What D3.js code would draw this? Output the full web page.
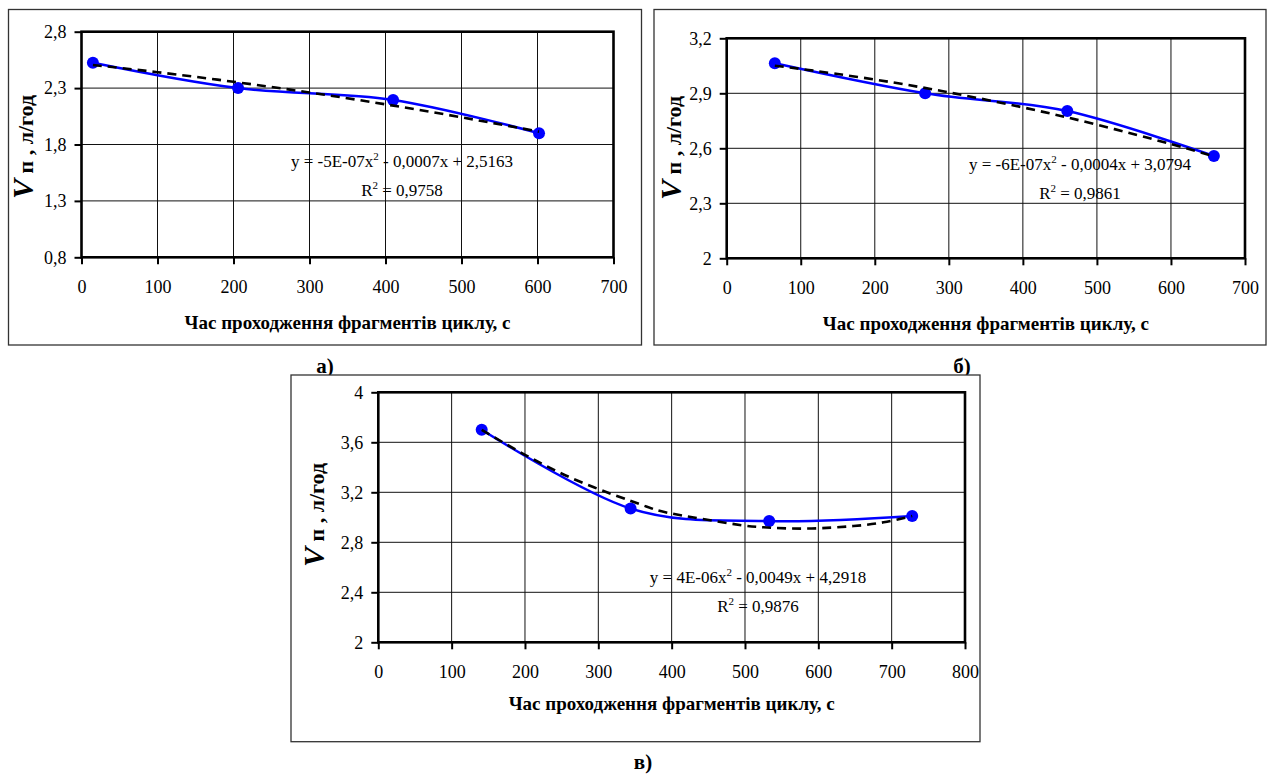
<!DOCTYPE html>
<html>
<head>
<meta charset="utf-8">
<script src="https://cdn.jsdelivr.net/npm/d3@7"></script>
<style>
  body { margin: 0; background: #fff; }
</style>
</head>
<body>
<div id="chart"></div>
<script>
// measured points (time, s ; flow, l/h)
const timeA = [15, 206, 410, 602];
const flowA = [2.525, 2.30, 2.195, 1.90];
const timeB = [65, 268, 460, 658];
const flowB = [3.064, 2.90, 2.803, 2.558];
const timeC = [141, 344, 533, 728];
const flowC = [3.70, 3.07, 2.97, 3.01];

// polynomial trendlines
const trendTimeA = [15, 100, 200, 300, 400, 500, 602];
const trendA = [2.505, 2.441, 2.356, 2.261, 2.156, 2.041, 1.914];
const trendTimeB = [65, 100, 200, 300, 400, 500, 600, 658];
const trendB = [3.050, 3.033, 2.975, 2.905, 2.823, 2.729, 2.623, 2.556];
const trendTimeC = [141, 200, 277, 359, 400, 480, 525, 584, 648, 689, 728];
const trendC = [3.70, 3.50, 3.28, 3.10, 3.03, 2.95, 2.92, 2.91, 2.93, 2.96, 3.01];

// tick values
const xTicksAB = [0, 100, 200, 300, 400, 500, 600, 700];
const xTicksC = [0, 100, 200, 300, 400, 500, 600, 700, 800];
const yTicksA = [0.8, 1.3, 1.8, 2.3, 2.8];
const yTicksB = [2, 2.3, 2.6, 2.9, 3.2];
const yTicksC = [2, 2.4, 2.8, 3.2, 3.6, 4];

// equation texts
const eqA = ["y = -5E-07x", "2", " - 0,0007x + 2,5163"];
const eqB = ["y = -6E-07x", "2", " - 0,0004x + 3,0794"];
const eqC = ["y = 4E-06x", "2", " - 0,0049x + 4,2918"];
const r2A = "0,9758", r2B = "0,9861", r2C = "0,9876";

const xTitle = "Час проходження фрагментів циклу, с";
const panelLabels = ["а)", "б)", "в)"];

const serif = "'Liberation Serif', 'Times New Roman', serif";
const width = 1273, height = 774;
const svg = d3.select("#chart").append("svg")
  .attr("width", width).attr("height", height)
  .attr("font-family", serif);
svg.append("rect").attr("width", width).attr("height", height).attr("fill", "#fff");

const fmt = v => String(+v.toFixed(1)).replace(".", ",");

function drawPanel(p) {
  const g = svg.append("g");
  g.append("rect")
    .attr("x", p.box[0]).attr("y", p.box[1])
    .attr("width", p.box[2]).attr("height", p.box[3])
    .attr("fill", "#fff").attr("stroke", "#333").attr("stroke-width", 1.3);

  const x = d3.scaleLinear().domain(d3.extent(p.xTicks)).range([p.left, p.right]);
  const y = d3.scaleLinear().domain(d3.extent(p.yTicks)).range([p.bottom, p.top]);

  // grid
  g.append("g").selectAll("line")
    .data(p.xTicks.slice(1, -1))
    .join("line")
    .attr("x1", d => x(d)).attr("x2", d => x(d))
    .attr("y1", p.top).attr("y2", p.bottom)
    .attr("stroke", "#111").attr("stroke-width", 1);
  g.append("g").selectAll("line")
    .data(p.yTicks.slice(1, -1))
    .join("line")
    .attr("x1", p.left).attr("x2", p.right)
    .attr("y1", d => y(d)).attr("y2", d => y(d))
    .attr("stroke", "#111").attr("stroke-width", 1);

  // axes
  const ax = g.append("g")
    .attr("transform", `translate(0,${p.bottom})`)
    .call(d3.axisBottom(x).tickValues(p.xTicks).tickSizeInner(7).tickSizeOuter(0).tickPadding(16).tickFormat(d3.format("d")));
  const ay = g.append("g")
    .attr("transform", `translate(${p.left},0)`)
    .call(d3.axisLeft(y).tickValues(p.yTicks).tickSizeInner(7).tickSizeOuter(0).tickPadding(8).tickFormat(fmt));
  [ax, ay].forEach(a => {
    a.attr("font-family", serif).attr("font-size", 18);
    a.select(".domain").remove();
    a.selectAll("line").attr("stroke", "#000").attr("stroke-width", 2);
    a.selectAll("text").attr("fill", "#000");
  });

  // frame
  g.append("rect")
    .attr("x", p.left).attr("y", p.top)
    .attr("width", p.right - p.left).attr("height", p.bottom - p.top)
    .attr("fill", "none").attr("stroke", "#000").attr("stroke-width", 2.6);

  // smoothed data line
  const pts = p.time.map((t, i) => [t, p.flow[i]]);
  g.append("path")
    .datum(pts)
    .attr("fill", "none").attr("stroke", "#0000ff").attr("stroke-width", 2.5)
    .attr("d", d3.line().x(d => x(d[0])).y(d => y(d[1])).curve(d3.curveCardinal.tension(0)));

  g.append("g").selectAll("circle")
    .data(pts)
    .join("circle")
    .attr("cx", d => x(d[0])).attr("cy", d => y(d[1]))
    .attr("r", 6).attr("fill", "#0000ff");

  // trendline
  const tpts = p.trendTime.map((t, i) => [t, p.trend[i]]);
  g.append("path")
    .datum(tpts)
    .attr("fill", "none").attr("stroke", "#000").attr("stroke-width", 2.6)
    .attr("stroke-dasharray", "9,6")
    .attr("d", d3.line().x(d => x(d[0])).y(d => y(d[1])).curve(d3.curveNatural));

  // equation
  const eq = g.append("text")
    .attr("x", p.eq[0]).attr("y", p.eq[1])
    .attr("text-anchor", "middle").attr("font-size", 17);
  eq.append("tspan").text(p.eqText[0]);
  eq.append("tspan").attr("dy", -7).attr("font-size", 11).text(p.eqText[1]);
  eq.append("tspan").attr("dy", 7).text(p.eqText[2]);
  const r2 = g.append("text")
    .attr("x", p.eq[0]).attr("y", p.eq[1] + 29)
    .attr("text-anchor", "middle").attr("font-size", 17);
  r2.append("tspan").text("R");
  r2.append("tspan").attr("dy", -7).attr("font-size", 11).text("2");
  r2.append("tspan").attr("dy", 7).text(" = " + p.r2);

  // axis titles
  g.append("text")
    .attr("x", (p.left + p.right) / 2).attr("y", p.bottom + p.titleGap)
    .attr("text-anchor", "middle").attr("font-size", 19).attr("font-weight", "bold")
    .text(xTitle);

  const yt = g.append("text")
    .attr("transform", `translate(${p.yTitle[0]},${p.yTitle[1]}) rotate(-90)`)
    .attr("text-anchor", "middle").attr("font-weight", "bold");
  yt.append("tspan").attr("font-size", 30).attr("font-style", "italic").text("V");
  yt.append("tspan").attr("font-size", 22).text(" п , л/год");
}

drawPanel({
  box: [8.5, 9.5, 633, 335.5],
  left: 81.5, right: 613.5, top: 31.7, bottom: 257.3,
  xTicks: xTicksAB, yTicks: yTicksA,
  time: timeA, flow: flowA, trendTime: trendTimeA, trend: trendA,
  eq: [402, 167], eqText: eqA, r2: r2A,
  titleGap: 72, yTitle: [33, 147]
});

drawPanel({
  box: [654, 9.5, 612, 335.5],
  left: 726.7, right: 1245, top: 38.3, bottom: 258.3,
  xTicks: xTicksAB, yTicks: yTicksB,
  time: timeB, flow: flowB, trendTime: trendTimeB, trend: trendB,
  eq: [1080, 170], eqText: eqB, r2: r2B,
  titleGap: 72, yTitle: [681, 148]
});

// panel captions a) and б) sit just above panel в's frame
svg.append("text").attr("x", 325).attr("y", 373).attr("text-anchor", "middle")
  .attr("font-size", 21).attr("font-weight", "bold").text(panelLabels[0]);
svg.append("text").attr("x", 962).attr("y", 373).attr("text-anchor", "middle")
  .attr("font-size", 21).attr("font-weight", "bold").text(panelLabels[1]);

drawPanel({
  box: [291, 375, 689, 366.7],
  left: 378.3, right: 965, top: 392.3, bottom: 642.3,
  xTicks: xTicksC, yTicks: yTicksC,
  time: timeC, flow: flowC, trendTime: trendTimeC, trend: trendC,
  eq: [758, 583], eqText: eqC, r2: r2C,
  titleGap: 68, yTitle: [324, 515]
});

svg.append("text").attr("x", 643).attr("y", 769).attr("text-anchor", "middle")
  .attr("font-size", 21).attr("font-weight", "bold").text(panelLabels[2]);
</script>
</body>
</html>
